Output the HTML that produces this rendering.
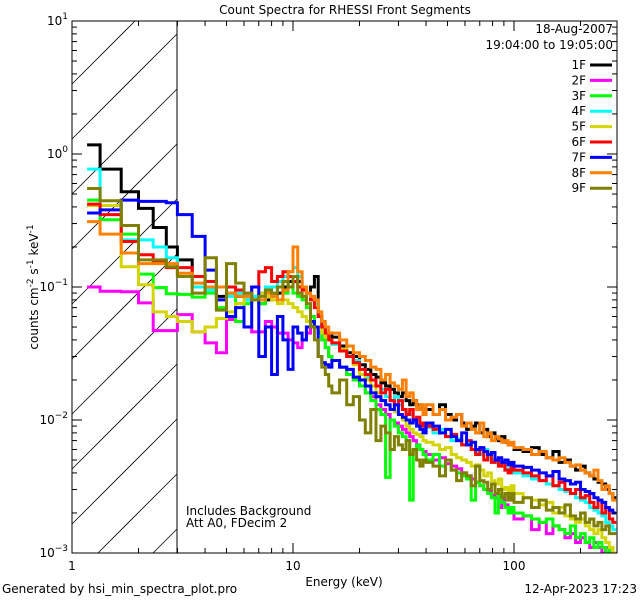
<!DOCTYPE html>
<html><head><meta charset="utf-8">
<style>
html,body{margin:0;padding:0;background:#fff;overflow:hidden;width:640px;height:600px;}
svg{display:block;overflow:hidden;}
svg text{font-family:"DejaVu Sans","Liberation Sans",sans-serif;font-size:12px;fill:#000;}
</style></head>
<body>
<svg id="chart" width="640" height="600" viewBox="0 0 640 600" xmlns="http://www.w3.org/2000/svg">
<defs><clipPath id="pc"><rect x="72" y="21" width="545" height="532"/></clipPath></defs>
<rect width="640" height="600" fill="#fff"/>
<text x="345" y="14" text-anchor="middle" font-size="13">Count Spectra for RHESSI Front Segments</text>
<g id="hatch"></g>
<line x1="177" y1="21" x2="177" y2="553" stroke="#000" stroke-width="1"/>
<g id="series" clip-path="url(#pc)"></g>
<rect x="72" y="21" width="545" height="532" fill="none" stroke="#000" stroke-width="1"/>
<g id="ticks"></g>
<g id="legend"></g>
<text x="613" y="33" text-anchor="end">18-Aug-2007</text>
<text x="613" y="49" text-anchor="end">19:04:00 to 19:05:00</text>
<text x="186" y="515">Includes Background</text>
<text x="186" y="527">Att A0, FDecim 2</text>
<text x="344" y="586" text-anchor="middle">Energy (keV)</text>
<text transform="translate(38,287) rotate(-90)" text-anchor="middle">counts cm<tspan dy="-5" font-size="9">-2</tspan><tspan dy="5"> s</tspan><tspan dy="-5" font-size="9">-1</tspan><tspan dy="5"> keV</tspan><tspan dy="-5" font-size="9">-1</tspan></text>
<text x="2" y="593" font-size="11">Generated by hsi_min_spectra_plot.pro</text>
<text x="637" y="593" text-anchor="end" font-size="11">12-Apr-2023 17:23</text>
</svg>
<script>
const seriesNames=["1F","2F","3F","4F","5F","6F","7F","8F","9F"];
const seriesColors=["#000000","#ff00ff","#00ff00","#00ffff","#d4d400","#ff0000","#0000ff","#ff8000","#808000"];
const xTickLabels=["1","10","100"];
const yTickExps=["1","0","-1","-2","-3"];
const s1F=[1.17,.77,.52,.39,.28,.20, .16,.12,.1,.085,.09,.085,.08,.085,.075,.08,.085,.09,.1,.11,.12,.11,.1,.09,.1,.12,.06,.05,.045,.045, .042,.036,.032,.03,.026,.024,.022,.021,.019,.018,.017,.016,.015,.016,.014,.013,.014,.013,.012,.012, .012,.011,.013,.011,.01,.011,.0095,.0085,.009,.0095,.008,.0085,.0075,.008,.0072,.007,.0075,.0068,.0065, .0065,.006,.0058,.0062,.0055,.0052,.0058,.0048,.005,.0045,.0042,.0045,.004,.0038,.0036,.0034,.0033,.003,.0028,.0026];
const s2F=[.1,.093,.092,.076,.047,.047, .062,.046,.038,.032,.057,.055,.05,.046,.046,.055,.05,.045,.045,.04,.038,.035,.04,.045,.055,.05,.045,.04,.035,.03, .028,.025,.022,.02,.018,.016,.015,.013,.012,.011,.01,.0095,.009,.0085,.008,.0075,.007,.0065,.006,.0058, .0055,.005,.0052,.0047,.0045,.0043,.004,.0038,.0036,.0034,.0032,.003,.0029,.0027,.0026,.0022,.0025,.0023,.0022, .0021,.0018,.0019,.0015,.0017,.0014,.0016,.0015,.0013,.0014,.0012,.0013,.0012,.0011,.0012,.0011,.001,.0011,.001,.001];
const s3F=[.45,.32,.25,.125,.099,.089, .088,.084,.09,.07,.09,.055,.075,.08,.075,.09,.085,.08,.09,.1,.09,.085,.08,.07,.06,.05,.045,.04,.035,.03, .028,.025,.022,.02,.018,.016,.014,.012,.011,.0037,.01,.009,.008,.0075,.007,.0025,.006,.0065,.006,.0055, .005,.0055,.0045,.005,.0042,.004,.0038,.0036,.0025,.0034,.0032,.003,.0028,.0026,.002,.0027,.0024,.0022,.002, .0022,.002,.0019,.0018,.0017,.0018,.0016,.0015,.0014,.0016,.0013,.0014,.0012,.0013,.0011,.0012,.0011,.001,.0011,.001];
const s4F=[.77,.41,.226,.226,.2,.166, .12,.1,.095,.1,.085,.09,.08,.085,.09,.1,.1,.11,.12,.13,.14,.12,.1,.09,.085,.075,.06,.05,.042,.04, .037,.034,.03,.028,.024,.021,.02,.018,.017,.015,.014,.015,.013,.012,.0115,.011,.01,.0095,.009,.009, .0088,.008,.0085,.0075,.007,.0072,.0065,.0068,.006,.0058,.0055,.006,.0052,.005,.0048,.0046,.0045,.0043,.0042, .0042,.004,.0038,.0036,.0035,.0033,.0032,.003,.0029,.0028,.0026,.0025,.0024,.0022,.0021,.002,.0019,.0017,.0016,.0015];
const s5F=[.41,.41,.142,.104,.065,.06, .055,.046,.05,.058,.065,.075,.085,.08,.09,.085,.08,.075,.08,.075,.07,.065,.06,.055,.052,.05,.048,.045,.042,.04, .038,.034,.03,.026,.022,.02,.018,.016,.014,.013,.012,.0115,.011,.01,.009,.0085,.008,.0078,.0075,.007, .0068,.0065,.006,.0062,.0055,.0052,.005,.0048,.0045,.0046,.0042,.0038,.004,.0035,.0033,.0036,.003,.0031,.0028, .0032,.0028,.0026,.0025,.0023,.0024,.002,.0022,.0019,.0018,.0017,.0018,.0016,.0015,.0014,.0015,.0013,.0012,.0011,.001];
const s6F=[.42,.35,.22,.175,.155,.14, .14,.12,.11,.1,.1,.095,.09,.1,.13,.14,.11,.12,.13,.12,.11,.1,.095,.09,.08,.07,.06,.05,.045,.04, .038,.033,.03,.027,.024,.022,.02,.018,.016,.017,.014,.013,.014,.012,.011,.012,.01,.0105,.009,.0095, .009,.0085,.008,.0075,.0078,.007,.0065,.007,.006,.0055,.006,.005,.0055,.0048,.005,.0045,.0048,.0042,.004, .0045,.0042,.004,.0038,.0035,.0038,.0032,.0034,.003,.0028,.003,.0026,.0027,.0024,.0022,.0025,.002,.0022,.0018,.0017];
const s7F=[.36,.38,.45,.44,.44,.43, .35,.24,.134,.08,.06,.07,.05,.1,.03,.05,.022,.06,.04,.024,.05,.045,.04,.05,.055,.05,.03,.027,.026,.025, .028,.025,.024,.021,.02,.018,.016,.015,.014,.013,.012,.013,.011,.0105,.01,.0095,.01,.009,.0085,.008, .0095,.009,.008,.0085,.0075,.007,.008,.0065,.0068,.006,.0062,.0058,.0055,.0057,.005,.0052,.0048,.005,.0046, .0048,.0045,.0044,.0042,.004,.0038,.0041,.0036,.0035,.0033,.0034,.003,.0029,.0028,.0026,.0025,.0024,.0022,.0021,.002];
const s8F=[.31,.25,.18,.15,.15,.15, .127,.107,.1,.1,.09,.085,.085,.08,.08,.09,.085,.08,.095,.13,.2,.13,.1,.09,.085,.08,.065,.055,.05,.045, .045,.04,.036,.032,.03,.028,.025,.024,.02,.022,.019,.018,.017,.02,.015,.016,.014,.012,.013,.011, .013,.011,.012,.01,.0105,.011,.009,.0095,.0085,.008,.0095,.0075,.008,.007,.0075,.0072,.0068,.007,.0065, .0068,.0062,.006,.0055,.0058,.0052,.005,.0052,.0048,.0045,.0046,.0042,.004,.0038,.0042,.0035,.003,.0032,.0028,.0025];
const s9F=[.55,.445,.29,.16,.16,.142, .12,.09,.166,.067,.15,.107,.09,.08,.085,.095,.09,.1,.11,.1,.12,.09,.085,.075,.05,.04,.03,.025,.022,.018, .016,.02,.013,.015,.01,.008,.012,.007,.009,.008,.006,.0075,.0065,.006,.007,.0055,.006,.005,.0045,.005, .0048,.0045,.0038,.005,.0042,.0035,.004,.0038,.0032,.0045,.0035,.0034,.003,.0033,.0028,.003,.0026,.0028,.0025, .0028,.0024,.0026,.0022,.0025,.0021,.0022,.002,.0023,.0019,.0018,.002,.0017,.0018,.0016,.0017,.0015,.0016,.0014,.0014];
const seriesData=[s1F,s2F,s3F,s4F,s5F,s6F,s7F,s8F,s9F];
const edges=[1.17,1.34,1.67,2,2.33,2.67,3];
for(let e=3.5;e<=15.001;e+=0.5)edges.push(e);
for(let e=16.25;e<=40.001;e+=1.25)edges.push(e);
for(let e=43;e<=100.001;e+=3)edges.push(e);
for(let e=110;e<=300.001;e+=10)edges.push(e);

const NS="http://www.w3.org/2000/svg";
const X0=72,X1=617,Y0=21,Y1=553,XH=177;
const xs=e=>X0+221*Math.log10(e);
const ys=v=>154-133*Math.log10(v);
function mk(t,a,p){const el=document.createElementNS(NS,t);for(const k in a)el.setAttribute(k,a[k]);p.appendChild(el);return el;}

// hatch: lines y = c - (x - X0), clipped analytically to hatch box
const hg=document.getElementById('hatch');
for(let k=0;k<12;k++){const c=84+55*k;
 let xa=X0,ya=c; if(ya>Y1){xa=X0+(ya-Y1);ya=Y1;}
 let xb=X0+(c-Y0),yb=Y0; if(xb>XH){xb=XH;yb=c-(XH-X0);}
 if(xa>=xb||ya<=Y0)continue;
 const ln=mk('line',{x1:xa,y1:ya,x2:xb,y2:yb,stroke:'#000','stroke-width':0.8},hg);
 
 
}

const sg=document.getElementById('series');
seriesData.forEach((vals,i)=>{
 let d='';
 for(let b=0;b<vals.length&&b+1<edges.length;b++){
  const xa=xs(edges[b]),xb=Math.min(xs(edges[b+1]),X1),y=Math.min(ys(Math.max(vals[b],0.0008)),Y1+2);
  d+=(b===0?'M':'L')+xa.toFixed(1)+','+y.toFixed(1)+'L'+xb.toFixed(1)+','+y.toFixed(1);
 }
 const p=mk('path',{d:d,fill:'none',stroke:seriesColors[i],'stroke-width':3,'stroke-linejoin':'miter'},sg);
 
 
});

const tg=document.getElementById('ticks');
for(let dec=0;dec<3;dec++){for(let m=1;m<10;m++){const e=m*Math.pow(10,dec);const x=xs(e);if(x>X1+0.5)continue;
 const L=m===1?10:5;
 const t1=mk('line',{x1:x,y1:Y1,x2:x,y2:Y1-L,stroke:'#000'},tg);
 
 
 const t2=mk('line',{x1:x,y1:Y0,x2:x,y2:Y0+L,stroke:'#000'},tg);
 
 
}}
xTickLabels.forEach(l=>{const tx=mk('text',{x:xs(+l),y:Y1+17,'text-anchor':'middle'},tg);tx.textContent=l;
 
 
});
for(let ex=-3;ex<1;ex++){for(let m=1;m<10;m++){const v=m*Math.pow(10,ex);const y=ys(v);
 const L=m===1?10:5;
 const t1=mk('line',{x1:X0,y1:y,x2:X0+L,y2:y,stroke:'#000'},tg);
 
 
 const t2=mk('line',{x1:X1,y1:y,x2:X1-L,y2:y,stroke:'#000'},tg);
 
 
}}
yTickExps.forEach(ex=>{const y=ys(Math.pow(10,+ex));
 const tx=mk('text',{x:X0-4,y:y+4,'text-anchor':'end'},tg);
 
 
 const a=mk('tspan',{},tx);a.textContent='10';
 const b=mk('tspan',{dy:-6,'font-size':9},tx);b.textContent=ex.replace('-','\u2212');
});

const lg=document.getElementById('legend');
seriesNames.forEach((n,i)=>{const y=65+15.4*i;
 const tx=mk('text',{x:586,y:y+4,'text-anchor':'end'},lg);tx.textContent=n;
 
 
 const ln=mk('line',{x1:590,y1:y,x2:612,y2:y,stroke:seriesColors[i],'stroke-width':3},lg);
 
 
});
</script>
</body></html>
